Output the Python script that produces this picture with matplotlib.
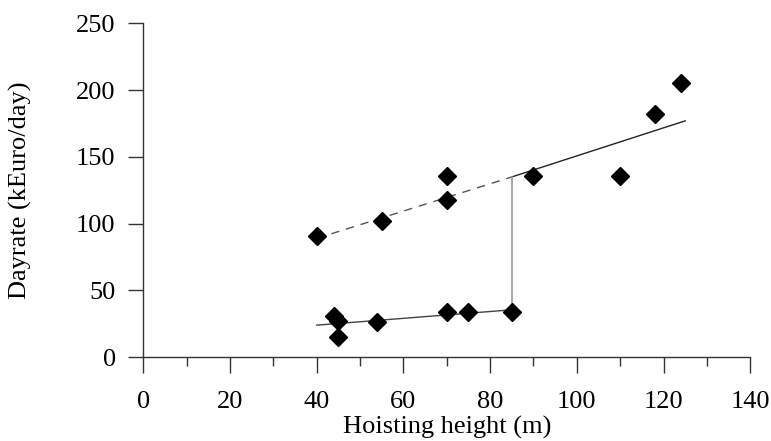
import matplotlib
matplotlib.use("Agg")
import matplotlib.pyplot as plt
from matplotlib.ticker import MultipleLocator

# hoisting height (m) vs dayrate (kEuro/day)
height = [40, 55, 70, 70, 44, 45, 45, 54, 70, 75, 85, 90, 110, 118, 124]
dayrate = [91, 102, 136, 118, 31, 27, 15, 26.5, 33.5, 33.5, 33.5, 136, 136, 182, 205]

# fitted trend lines
low_fit_x = [40, 85]
low_fit_y = [24, 35.5]
high_dash_x = [40, 85]
high_dash_y = [89, 135]
high_solid_x = [85, 125]
high_solid_y = [135, 177]
jump_x = [85, 85]
jump_y = [35.5, 135]

plt.rcParams["font.family"] = ["Liberation Serif", "DejaVu Serif"]

fig = plt.figure(figsize=(7.71, 4.41), dpi=100)
ax = fig.add_axes([0.186, 0.190, 0.787, 0.757])

ax.plot(low_fit_x, low_fit_y, color="#444444", lw=1.0, zorder=2)
ax.plot(high_dash_x, high_dash_y, color="#555555", lw=1.0, ls=(0, (6, 5)), zorder=2)
ax.plot(high_solid_x, high_solid_y, color="#222222", lw=1.0, zorder=2)
ax.plot(jump_x, jump_y, color="#999999", lw=1.2, zorder=2)
ax.plot(height, dayrate, ls="none", marker="D", ms=9, color="black", zorder=3)

ax.set_xlim(0, 140)
ax.set_ylim(0, 250)
ax.xaxis.set_major_locator(MultipleLocator(20))
ax.xaxis.set_minor_locator(MultipleLocator(10))
ax.yaxis.set_major_locator(MultipleLocator(50))

for side in ("top", "right"):
    ax.spines[side].set_visible(False)
for side in ("left", "bottom"):
    ax.spines[side].set_color("#333333")
    ax.spines[side].set_linewidth(1.0)

ax.tick_params(axis="both", which="both", direction="out", width=1.0,
               color="#333333", labelsize=19)
ax.tick_params(axis="x", which="major", length=11.5, pad=13)
ax.tick_params(axis="x", which="minor", length=6.5)
ax.tick_params(axis="y", which="major", length=11, pad=9)
ax.set_xlabel("Hoisting height (m)", fontsize=19, labelpad=2)
ax.set_ylabel("Dayrate (kEuro/day)", fontsize=19, labelpad=32)

fig.savefig("out.png", dpi=100)
